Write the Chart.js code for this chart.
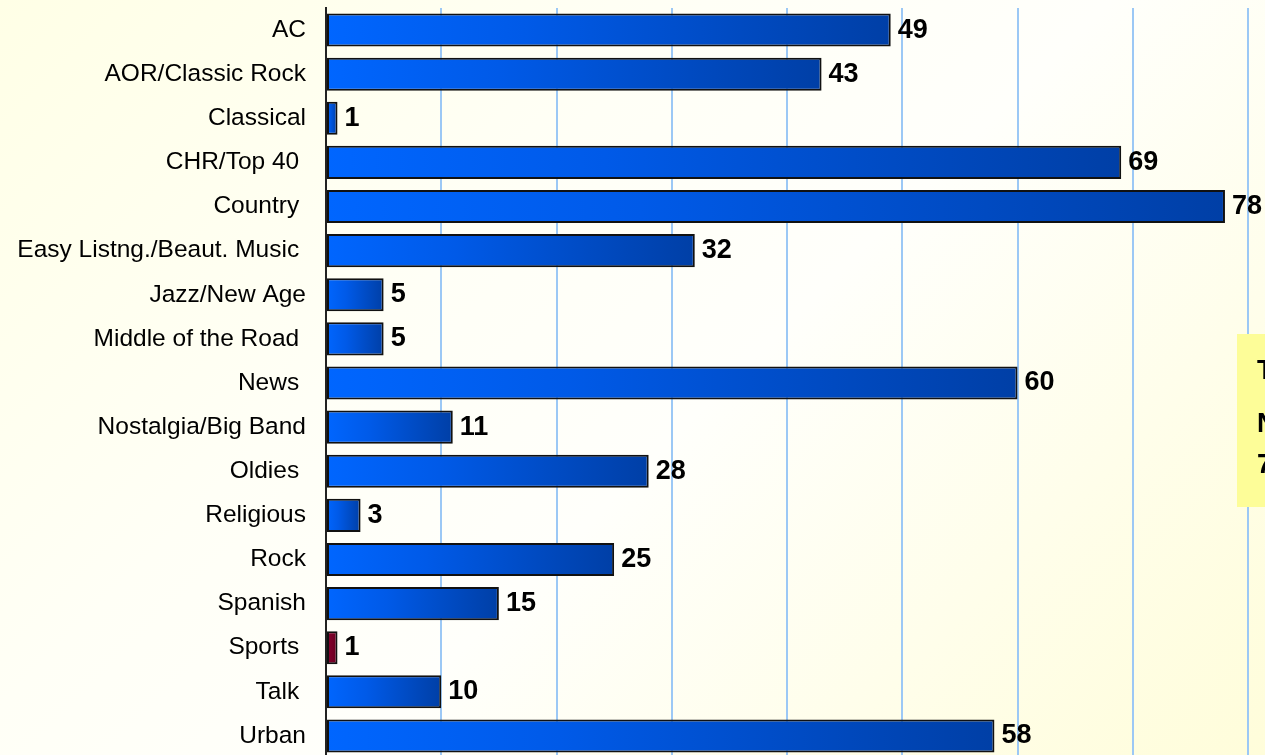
<!DOCTYPE html>
<html>
<head>
<meta charset="UTF-8">
<title>Formats</title>
<script src="https://cdn.jsdelivr.net/npm/chart.js"></script>
<style>
html, body {
    margin: 0;
    padding: 0;
    width: 1265px;
    height: 755px;
    overflow: hidden;
    background: linear-gradient(135deg, #ffffe6 0%, #fffff6 35%, #fffffb 55%, #fffdda 100%);
}
#wrap {
    position: absolute;
    left: 0;
    top: 0;
}
</style>
</head>
<body>
<div id="wrap">
    <canvas id="formaty" width="1265" height="758"></canvas>
</div>

<script>
// stacje wg formatu
const kategorie = ['AC', 'AOR/Classic Rock', 'Classical', 'CHR/Top 40 ', 'Country ',
    'Easy Listng./Beaut. Music ', 'Jazz/New Age', 'Middle of the Road ', 'News ',
    'Nostalgia/Big Band', 'Oldies ', 'Religious', 'Rock', 'Spanish', 'Sports ', 'Talk ', 'Urban'];
const wartosci = [49, 43, 1, 69, 78, 32, 5, 5, 60, 11, 28, 3, 25, 15, 1, 10, 58];
const wyrozniony = 'Sports ';
const notatka = ['T', 'N', '7'];

function kolorSlupka(c) {
    const red = c.dataIndex !== undefined && kategorie[c.dataIndex] === wyrozniony;
    const plain = red ? '#7a0026' : '#0055dd';
    if (c.type !== 'data') return plain;
    const chart = c.chart;
    const x = chart.scales.x;
    if (!x) return plain;
    const x0 = x.getPixelForValue(0);
    let x1 = x.getPixelForValue(c.raw);
    if (!Number.isFinite(x0) || !Number.isFinite(x1)) return plain;
    if (x1 - x0 < 2) x1 = x0 + 2;
    const g = chart.ctx.createLinearGradient(x0, 0, x1, 0);
    if (red) {
        g.addColorStop(0, '#8c0030');
        g.addColorStop(1, '#660020');
    } else {
        g.addColorStop(0, '#0066ff');
        g.addColorStop(0.35, '#005ae8');
        g.addColorStop(1, '#003fa6');
    }
    return g;
}

const etykiety = {
    id: 'etykiety',
    afterDatasetsDraw(chart) {
        const ctx = chart.ctx;
        const meta = chart.getDatasetMeta(0);
        ctx.save();
        ctx.font = 'bold 27px "Liberation Sans", Arial, sans-serif';
        ctx.fillStyle = '#000';
        ctx.textBaseline = 'middle';
        ctx.textAlign = 'left';
        meta.data.forEach((bar, i) => {
            ctx.fillText(String(wartosci[i]), bar.x + 7, bar.y);
        });
        ctx.restore();
    },
    afterDraw(chart) {
        // zolta ramka z notatka po prawej (ucieta)
        const ctx = chart.ctx;
        ctx.save();
        ctx.fillStyle = '#fdfd98';
        ctx.fillRect(1237, 334, 40, 173);
        ctx.font = 'bold 27px "Liberation Sans", Arial, sans-serif';
        ctx.fillStyle = '#000';
        ctx.textBaseline = 'middle';
        const ys = [372, 425, 466];
        notatka.forEach((t, i) => ctx.fillText(t, 1257, ys[i]));
        ctx.restore();
    }
};

const ctx = document.getElementById('formaty');
new Chart(ctx, {
    type: 'bar',
    data: {
        labels: kategorie,
        datasets: [{
            data: wartosci,
            backgroundColor: kolorSlupka,
            borderColor: '#111',
            borderWidth: 2,
            borderSkipped: false,
            barPercentage: 0.75,
            categoryPercentage: 1
        }]
    },
    options: {
        indexAxis: 'y',
        responsive: false,
        animation: false,
        layout: {
            padding: { top: 8, right: 17, bottom: 0, left: 0 }
        },
        plugins: {
            legend: { display: false },
            tooltip: { enabled: false }
        },
        scales: {
            x: {
                min: 0,
                max: 80,
                ticks: { display: false, stepSize: 10 },
                grid: {
                    color: c => c.index === 0 ? 'rgba(0,0,0,0)' : '#9cc8f5',
                    lineWidth: 2,
                    drawTicks: false
                },
                border: { display: false },
                afterFit: s => { s.height = 0; s.paddingLeft = 0; s.paddingRight = 0; }
            },
            y: {
                grid: { display: false, drawTicks: false },
                border: { display: true, color: '#222', width: 2 },
                ticks: {
                    color: '#000',
                    padding: 20,
                    font: { family: '"Liberation Sans", Arial, sans-serif', size: 24.5 }
                },
                afterFit: s => {
                    s.width = 326;
                    s.paddingTop = 0;
                    s.paddingBottom = 0;
                }
            }
        }
    },
    plugins: [etykiety]
});
</script>
</body>
</html>
